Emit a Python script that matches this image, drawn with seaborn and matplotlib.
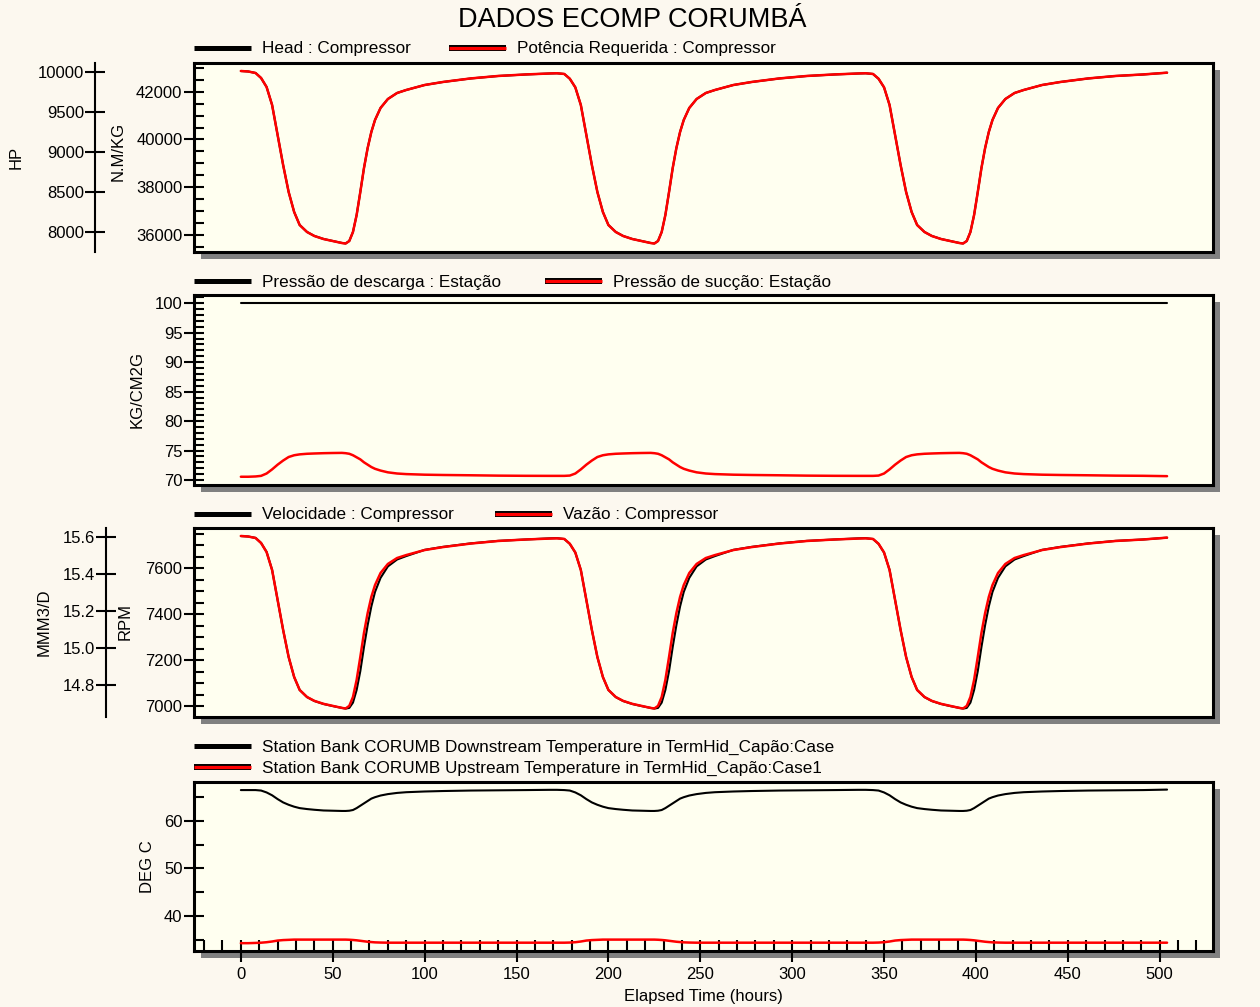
import matplotlib
matplotlib.use("Agg")
import matplotlib.pyplot as plt
import matplotlib.patheffects as pe
from matplotlib.lines import Line2D
from matplotlib.patches import Rectangle
from matplotlib.ticker import MultipleLocator, FixedLocator, StrMethodFormatter
import pandas as pd
import seaborn as sns

# ---------------- data ----------------
hours_w1 = [0, 4, 8, 11, 14, 17, 20, 23, 26, 29, 32, 36, 40, 45, 50, 55, 57, 59, 61, 63,
            65, 67, 69, 71, 73, 76, 80, 85, 90, 100, 110, 125, 140, 155]
hours_w2 = [168, 172, 176, 179, 182, 185, 188, 191, 194, 197, 200, 204, 208, 213, 218, 223, 225, 227, 229, 231,
            233, 235, 237, 239, 241, 244, 248, 253, 258, 268, 278, 293, 308, 323]
hours_w3 = [336, 340, 344, 347, 350, 353, 356, 359, 362, 365, 368, 372, 376, 381, 386, 391, 393, 395, 397, 399,
            401, 403, 405, 407, 409, 412, 416, 421, 426, 436, 446, 461, 476, 491]
hours_end = [504]

# Head : Compressor (N.M/KG)
head_w1 = [42866, 42846, 42783, 42573, 42197, 41443, 40187, 38932, 37801, 36964, 36420, 36127, 35960, 35834,
           35750, 35667, 35646, 35750, 36127, 36839, 37801, 38806, 39643, 40313, 40815, 41318, 41694, 41946,
           42071, 42280, 42406, 42553, 42657, 42720]
head_w2 = [42762, 42770, 42741, 42540, 42180, 41443, 40187, 38932, 37801, 36964, 36420, 36127, 35960, 35834,
           35750, 35667, 35646, 35750, 36127, 36839, 37801, 38806, 39643, 40313, 40815, 41318, 41694, 41946,
           42071, 42280, 42406, 42553, 42657, 42720]
head_w3 = [42762, 42770, 42741, 42540, 42180, 41443, 40187, 38932, 37801, 36964, 36420, 36127, 35960, 35834,
           35750, 35667, 35646, 35750, 36127, 36839, 37801, 38806, 39643, 40313, 40815, 41318, 41694, 41946,
           42071, 42280, 42406, 42553, 42657, 42720]
head_end = [42795]

# Potência Requerida : Compressor (HP)
pot_w1 = [10016, 10010, 9991, 9929, 9816, 9591, 9216, 8841, 8504, 8254, 8091, 8004, 7954, 7916, 7891, 7866,
          7860, 7891, 8004, 8216, 8504, 8804, 9054, 9254, 9404, 9554, 9666, 9741, 9779, 9841, 9879, 9923,
          9954, 9973]
pot_w2 = [9985, 9988, 9979, 9920, 9812, 9591, 9216, 8841, 8504, 8254, 8091, 8004, 7954, 7916, 7891, 7866,
          7860, 7891, 8004, 8216, 8504, 8804, 9054, 9254, 9404, 9554, 9666, 9741, 9779, 9841, 9879, 9923,
          9954, 9973]
pot_w3 = [9985, 9988, 9979, 9920, 9812, 9591, 9216, 8841, 8504, 8254, 8091, 8004, 7954, 7916, 7891, 7866,
          7860, 7891, 8004, 8216, 8504, 8804, 9054, 9254, 9404, 9554, 9666, 9741, 9779, 9841, 9879, 9923,
          9954, 9973]
pot_end = [9995]

# Pressão de descarga : Estação (KG/CM2G)
desc_hours = [0, 504]
desc_values = [100.0, 100.0]

# Pressão de sucção: Estação (KG/CM2G)
suc_w1 = [70.55, 70.55, 70.6, 70.7, 71.1, 71.8, 72.6, 73.3, 73.9, 74.2, 74.35, 74.45, 74.5, 74.55, 74.58,
          74.6, 74.55, 74.45, 74.2, 73.85, 73.5, 73.0, 72.6, 72.2, 71.9, 71.6, 71.3, 71.1, 71.0, 70.9, 70.85,
          70.8, 70.74, 70.71]
suc_w2 = [70.7, 70.7, 70.7, 70.75, 71.1, 71.8, 72.6, 73.3, 73.9, 74.2, 74.35, 74.45, 74.5, 74.55, 74.58,
          74.6, 74.55, 74.45, 74.2, 73.85, 73.5, 73.0, 72.6, 72.2, 71.9, 71.6, 71.3, 71.1, 71.0, 70.9, 70.85,
          70.8, 70.74, 70.71]
suc_w3 = [70.7, 70.7, 70.7, 70.75, 71.1, 71.8, 72.6, 73.3, 73.9, 74.2, 74.35, 74.45, 74.5, 74.55, 74.58,
          74.6, 74.55, 74.45, 74.2, 73.85, 73.5, 73.0, 72.6, 72.2, 71.9, 71.6, 71.3, 71.1, 71.0, 70.9, 70.85,
          70.8, 70.74, 70.71]
suc_end = [70.65]

# Velocidade : Compressor (RPM)
vel_w1 = [7740, 7738, 7732, 7710, 7671, 7593, 7462, 7332, 7214, 7127, 7071, 7040, 7023, 7010, 7001, 6993,
          6990, 6993, 7016, 7071, 7153, 7258, 7353, 7434, 7497, 7558, 7608, 7638, 7653, 7680, 7693, 7708,
          7719, 7725]
vel_w2 = [7730, 7731, 7727, 7706, 7668, 7593, 7462, 7332, 7214, 7127, 7071, 7040, 7023, 7010, 7001, 6993,
          6990, 6993, 7016, 7071, 7153, 7258, 7353, 7434, 7497, 7558, 7608, 7638, 7653, 7680, 7693, 7708,
          7719, 7725]
vel_w3 = [7730, 7731, 7727, 7706, 7668, 7593, 7462, 7332, 7214, 7127, 7071, 7040, 7023, 7010, 7001, 6993,
          6990, 6993, 7016, 7071, 7153, 7258, 7353, 7434, 7497, 7558, 7608, 7638, 7653, 7680, 7693, 7708,
          7719, 7725]
vel_end = [7733]

# Vazão : Compressor (MMM3/D)
vaz_w1 = [15.604, 15.601, 15.593, 15.566, 15.517, 15.420, 15.259, 15.097, 14.951, 14.843, 14.773, 14.735,
          14.714, 14.698, 14.687, 14.676, 14.673, 14.687, 14.735, 14.827, 14.951, 15.081, 15.188, 15.275,
          15.339, 15.404, 15.453, 15.485, 15.501, 15.528, 15.544, 15.563, 15.577, 15.585]
vaz_w2 = [15.590, 15.591, 15.588, 15.562, 15.515, 15.420, 15.259, 15.097, 14.951, 14.843, 14.773, 14.735,
          14.714, 14.698, 14.687, 14.676, 14.673, 14.687, 14.735, 14.827, 14.951, 15.081, 15.188, 15.275,
          15.339, 15.404, 15.453, 15.485, 15.501, 15.528, 15.544, 15.563, 15.577, 15.585]
vaz_w3 = [15.590, 15.591, 15.588, 15.562, 15.515, 15.420, 15.259, 15.097, 14.951, 14.843, 14.773, 14.735,
          14.714, 14.698, 14.687, 14.676, 14.673, 14.687, 14.735, 14.827, 14.951, 15.081, 15.188, 15.275,
          15.339, 15.404, 15.453, 15.485, 15.501, 15.528, 15.544, 15.563, 15.577, 15.585]
vaz_end = [15.595]

# Station Bank CORUMB Downstream Temperature (DEG C)
down_w1 = [66.5, 66.5, 66.5, 66.4, 66.0, 65.4, 64.6, 63.9, 63.4, 63.0, 62.7, 62.5, 62.35, 62.2, 62.15, 62.1,
           62.1, 62.15, 62.3, 62.7, 63.2, 63.7, 64.2, 64.7, 65.0, 65.35, 65.65, 65.9, 66.05, 66.2, 66.3, 66.4,
           66.45, 66.5]
down_w2 = [66.55, 66.55, 66.5, 66.4, 66.0, 65.4, 64.6, 63.9, 63.4, 63.0, 62.7, 62.5, 62.35, 62.2, 62.15, 62.1,
           62.1, 62.15, 62.3, 62.7, 63.2, 63.7, 64.2, 64.7, 65.0, 65.35, 65.65, 65.9, 66.05, 66.2, 66.3, 66.4,
           66.45, 66.5]
down_w3 = [66.55, 66.55, 66.5, 66.4, 66.0, 65.4, 64.6, 63.9, 63.4, 63.0, 62.7, 62.5, 62.35, 62.2, 62.15, 62.1,
           62.1, 62.15, 62.3, 62.7, 63.2, 63.7, 64.2, 64.7, 65.0, 65.35, 65.65, 65.9, 66.05, 66.2, 66.3, 66.4,
           66.45, 66.5]
down_end = [66.6]

# Station Bank CORUMB Upstream Temperature (DEG C)
up_w1 = [34.25, 34.25, 34.3, 34.35, 34.45, 34.6, 34.8, 34.9, 34.95, 35.0, 35.0, 35.0, 35.0, 35.0, 35.0, 35.0,
         35.0, 34.97, 34.92, 34.85, 34.75, 34.65, 34.55, 34.48, 34.42, 34.38, 34.35, 34.35, 34.35, 34.35, 34.35,
         34.35, 34.35, 34.35]
up_w2 = [34.35, 34.35, 34.35, 34.38, 34.45, 34.6, 34.8, 34.9, 34.95, 35.0, 35.0, 35.0, 35.0, 35.0, 35.0, 35.0,
         35.0, 34.97, 34.92, 34.85, 34.75, 34.65, 34.55, 34.48, 34.42, 34.38, 34.35, 34.35, 34.35, 34.35, 34.35,
         34.35, 34.35, 34.35]
up_w3 = [34.35, 34.35, 34.35, 34.38, 34.45, 34.6, 34.8, 34.9, 34.95, 35.0, 35.0, 35.0, 35.0, 35.0, 35.0, 35.0,
         35.0, 34.97, 34.92, 34.85, 34.75, 34.65, 34.55, 34.48, 34.42, 34.38, 34.35, 34.35, 34.35, 34.35, 34.35,
         34.35, 34.35, 34.35]
up_end = [34.35]

x_ticks = [0, 50, 100, 150, 200, 250, 300, 350, 400, 450, 500]

legend_labels = [
    ["Head : Compressor", "Potência Requerida : Compressor"],
    ["Pressão de descarga : Estação", "Pressão de sucção: Estação"],
    ["Velocidade : Compressor", "Vazão : Compressor"],
    ["Station Bank CORUMB Downstream Temperature in TermHid_Capão:Case",
     "Station Bank CORUMB Upstream Temperature in TermHid_Capão:Case1"],
]

df = pd.DataFrame({
    "hours": hours_w1 + hours_w2 + hours_w3 + hours_end,
    "head": head_w1 + head_w2 + head_w3 + head_end,
    "pot": pot_w1 + pot_w2 + pot_w3 + pot_end,
    "suc": suc_w1 + suc_w2 + suc_w3 + suc_end,
    "vel": vel_w1 + vel_w2 + vel_w3 + vel_end,
    "vaz": vaz_w1 + vaz_w2 + vaz_w3 + vaz_end,
    "down": down_w1 + down_w2 + down_w3 + down_end,
    "up": up_w1 + up_w2 + up_w3 + up_end,
})
df_desc = pd.DataFrame({"hours": desc_hours, "desc": desc_values})

# ---------------- style ----------------
sns.set_theme(style="ticks")
plt.rcParams["font.family"] = ["Liberation Sans", "DejaVu Sans"]
plt.rcParams["text.color"] = "black"
plt.rcParams["axes.labelcolor"] = "black"
plt.rcParams["xtick.color"] = "black"
plt.rcParams["ytick.color"] = "black"

FIG_BG = "#FCF8EF"
AX_BG = "#FFFFF0"
W, H = 1260, 1007
fig = plt.figure(figsize=(W / 100, H / 100), dpi=100, facecolor=FIG_BG)

rects = [(194, 63, 1213, 252), (194, 295, 1213, 485), (194, 528, 1213, 717), (194, 782, 1213, 951)]
XLIM = (-25.5, 529)
LEG_FS = 12.3


def make_axes(l, t, r, b):
    ax = fig.add_axes([l / W, 1 - b / H, (r - l) / W, (b - t) / H], facecolor=AX_BG)
    fig.add_artist(Rectangle(((l + 7) / W, 1 - (b + 7) / H), (r - l) / W, (b - t) / H,
                             transform=fig.transFigure, facecolor="#808080",
                             edgecolor="none", zorder=-1))
    for sp in ax.spines.values():
        sp.set_visible(True)
        sp.set_linewidth(2.2)
        sp.set_color("black")
    ax.set_xlim(*XLIM)
    ax.tick_params(axis="y", which="major", direction="inout", length=13.7, width=1.5,
                   labelsize=12, pad=1.5, left=True, right=False)
    ax.tick_params(axis="y", which="minor", direction="in", length=7.2, width=1.5,
                   left=True, right=False)
    ax.tick_params(axis="x", which="both", bottom=False, top=False, labelbottom=False)
    ax.grid(False)
    return ax


def make_outer(ax, outward_pt):
    axt = ax.twinx()
    axt.yaxis.tick_left()
    axt.yaxis.set_label_position("left")
    for s in ["right", "top", "bottom"]:
        axt.spines[s].set_visible(False)
    axt.spines["left"].set_visible(True)
    axt.spines["left"].set_position(("outward", outward_pt))
    axt.spines["left"].set_linewidth(1.5)
    axt.spines["left"].set_color("black")
    axt.tick_params(axis="y", which="major", direction="inout", length=14.4, width=1.5,
                    labelsize=12, pad=0.5, left=True, right=False)
    axt.tick_params(axis="y", which="minor", left=False, right=False)
    axt.patch.set_visible(False)
    axt.grid(False)
    return axt


def handles():
    black = Line2D([], [], color="black", linewidth=3.6, solid_capstyle="butt")
    red = Line2D([], [], color="#FF0000", linewidth=2.3, solid_capstyle="butt",
                 path_effects=[pe.Stroke(linewidth=4.3, foreground="black"), pe.Normal()])
    return [black, red]


def add_legend(ax, labels, y, ncol, colsp_px):
    em = LEG_FS * 100 / 72
    ax.legend(handles=handles(), labels=labels, loc="center left", bbox_to_anchor=(0.0, y),
              ncol=ncol, frameon=False, fontsize=LEG_FS, handlelength=57 / em,
              handletextpad=11 / em, columnspacing=colsp_px / em, borderpad=0,
              borderaxespad=0, labelspacing=0.32)


def set_ylabel(ax, text, x_right_px, yfrac):
    ax.set_ylabel(text, fontsize=12, visible=True)
    ax.yaxis.label.set_visible(True)
    ax.yaxis.set_label_coords(-(194 - x_right_px) / 1019, yfrac)


LW_BLACK = 1.5
LW_RED = 1.8

# ---- panel 1 ----
ax1 = make_axes(*rects[0])
ax1h = make_outer(ax1, 71.3)
sns.lineplot(data=df, x="hours", y="head", ax=ax1, color="black", linewidth=LW_BLACK, legend=False)
sns.lineplot(data=df, x="hours", y="pot", ax=ax1h, color="#FF0000", linewidth=LW_RED, legend=False)
ax1.set_ylim(35288, 43201)
ax1.yaxis.set_major_locator(FixedLocator([36000, 38000, 40000, 42000]))
ax1.yaxis.set_minor_locator(MultipleLocator(500))
ax1.yaxis.set_major_formatter(StrMethodFormatter("{x:.0f}"))
ax1h.set_ylim(7754, 10116)
ax1h.yaxis.set_major_locator(FixedLocator([8000, 8500, 9000, 9500, 10000]))
ax1h.yaxis.set_major_formatter(StrMethodFormatter("{x:.0f}"))
set_ylabel(ax1, "N.M/KG", 126, 0.53)
set_ylabel(ax1h, "HP", 24, 0.5)
ax1.set_xlabel("")
ax1h.set_xlabel("")
ax1.set_xlim(*XLIM)
add_legend(ax1, legend_labels[0], (252 - 49) / 189, 2, 38)

# ---- panel 2 ----
ax2 = make_axes(*rects[1])
sns.lineplot(data=df_desc, x="hours", y="desc", ax=ax2, color="black", linewidth=LW_BLACK, legend=False)
sns.lineplot(data=df, x="hours", y="suc", ax=ax2, color="#FF0000", linewidth=LW_RED, legend=False)
ax2.set_ylim(69.15, 101.4)
ax2.yaxis.set_major_locator(MultipleLocator(5))
ax2.yaxis.set_minor_locator(MultipleLocator(1))
ax2.yaxis.set_major_formatter(StrMethodFormatter("{x:.0f}"))
set_ylabel(ax2, "KG/CM2G", 145, 0.505)
ax2.set_xlabel("")
ax2.set_xlim(*XLIM)
add_legend(ax2, legend_labels[1], (485 - 282) / 190, 2, 44)

# ---- panel 3 ----
ax3 = make_axes(*rects[2])
ax3m = make_outer(ax3, 63.4)
sns.lineplot(data=df, x="hours", y="vel", ax=ax3, color="black", linewidth=LW_BLACK, legend=False)
sns.lineplot(data=df, x="hours", y="vaz", ax=ax3m, color="#FF0000", linewidth=LW_RED, legend=False)
ax3.set_ylim(6953.5, 7775)
ax3.yaxis.set_major_locator(FixedLocator([7000, 7200, 7400, 7600]))
ax3.yaxis.set_minor_locator(MultipleLocator(50))
ax3.yaxis.set_major_formatter(StrMethodFormatter("{x:.0f}"))
ax3m.set_ylim(14.627, 15.647)
ax3m.yaxis.set_major_locator(FixedLocator([14.8, 15.0, 15.2, 15.4, 15.6]))
ax3m.yaxis.set_major_formatter(StrMethodFormatter("{x:.1f}"))
set_ylabel(ax3, "RPM", 133, 0.503)
set_ylabel(ax3m, "MMM3/D", 52, 0.503)
ax3.set_xlabel("")
ax3m.set_xlabel("")
ax3.set_xlim(*XLIM)
add_legend(ax3, legend_labels[2], (717 - 515) / 189, 2, 41)

# ---- panel 4 ----
ax4 = make_axes(*rects[3])
sns.lineplot(data=df, x="hours", y="down", ax=ax4, color="black", linewidth=LW_BLACK, legend=False)
sns.lineplot(data=df, x="hours", y="up", ax=ax4, color="#FF0000", linewidth=LW_RED, legend=False)
ax4.set_ylim(32.6, 68.2)
ax4.yaxis.set_major_locator(FixedLocator([40, 50, 60]))
ax4.yaxis.set_minor_locator(FixedLocator([35, 45, 55, 65]))
ax4.yaxis.set_major_formatter(StrMethodFormatter("{x:.0f}"))
ax4.set_xlim(*XLIM)
ax4.xaxis.set_major_locator(FixedLocator(x_ticks))
ax4.xaxis.set_minor_locator(MultipleLocator(10))
ax4.xaxis.set_major_formatter(StrMethodFormatter("{x:.0f}"))
ax4.tick_params(axis="x", which="major", direction="inout", length=15.8, width=1.5,
                labelsize=12, pad=3.5, bottom=True, top=False, labelbottom=True)
ax4.tick_params(axis="x", which="minor", direction="in", length=7.9, width=1.5,
                bottom=True, top=False)
set_ylabel(ax4, "DEG C", 155, 0.497)
ax4.set_xlabel("Elapsed Time (hours)", fontsize=12)
ax4.xaxis.label.set_visible(True)
ax4.xaxis.set_label_coords(0.5, -0.222)
add_legend(ax4, legend_labels[3], (951 - 758) / 169, 1, 20)

fig.text(632 / W, 1 - 20 / H, "DADOS ECOMP CORUMBÁ", ha="center", va="center", fontsize=19.5)

fig.savefig("out.png", dpi=100, facecolor=FIG_BG)
